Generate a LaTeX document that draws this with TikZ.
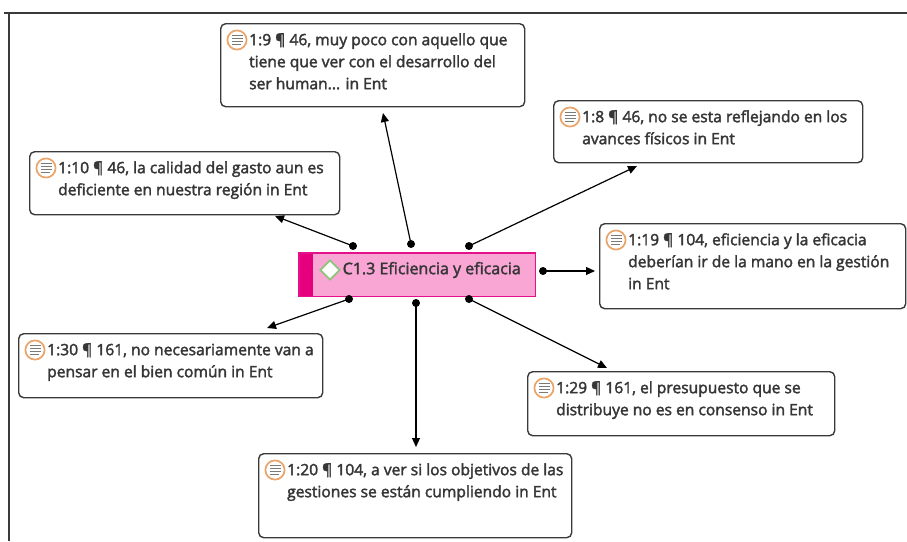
\documentclass[tikz,border=0pt]{standalone}
\usepackage{fontspec}
\setmainfont{Open Sans}
\usetikzlibrary{arrows.meta,calc,shapes.geometric}
\definecolor{txt}{HTML}{363636}
\definecolor{boxc}{HTML}{3A3A3A}
\definecolor{iconring}{HTML}{EBA46A}
\definecolor{iconline}{HTML}{7A7A7A}
\definecolor{cfill}{HTML}{F9A6D4}
\definecolor{cborder}{HTML}{E3128A}
\definecolor{cstrip}{HTML}{E6007E}
\definecolor{dgreen}{HTML}{8CC47A}
\newcommand\qheavy{\special{pdf:literal direct 2 Tr 0.35 w}}
\newcommand\qfont{\fontsize{15.6}{22}\selectfont}
\begin{document}
\begin{tikzpicture}[x=1pt,y=-1pt,
  qbox/.style={draw=boxc, line width=1.4pt, rounded corners=5pt, fill=white, inner sep=0pt, anchor=north west},
  qtext/.style={text=txt, font=\qfont, align=left, inner sep=0pt, anchor=north west},
  conn/.style={draw=black, line width=1.2pt, -{Triangle[length=9pt,width=8pt]}},
  dotc/.style={circle, fill=black, inner sep=0pt, minimum size=8pt},
  frame/.style={draw=boxc, line width=1.5pt},
  qicon/.pic={
    \draw[iconring, fill=white, line width=1.7pt] (0,0) circle (9.6);
    \foreach \yy/\ww in {-4.5/5.5,-1.5/5.5,1.5/5.5,4.5/3.5}
      \draw[iconline, line width=1.7pt] (-5.5,\yy) -- (\ww,\yy);
  }]
\useasboundingbox (0,0) rectangle (907,541);
\draw[frame] (4,13) -- (907,13);
\draw[frame] (9,13) -- (9,541);

% quotation boxes
\node[qbox, minimum width=304pt, minimum height=83pt] (A) at (220,23) {};
\node[qbox, minimum width=309pt, minimum height=62pt] (B) at (553,100) {};
\node[qbox, minimum width=310pt, minimum height=63pt] (C) at (29,151) {};
\node[qbox, minimum width=306pt, minimum height=85pt] (D) at (599,223) {};
\node[qbox, minimum width=304pt, minimum height=64pt] (E) at (18,333) {};
\node[qbox, minimum width=307pt, minimum height=64pt] (F) at (527,371) {};
\node[qbox, minimum width=313pt, minimum height=84pt] (G) at (258,453) {};

\foreach \b in {A,B,C,D,E,F,G}
  \pic at ($(\b.north west)+(17,17)$) {qicon};

\node[qtext] (At) at ($(A.north west)+(29,6.6)$) {\qheavy\strut1:9 ¶ 46, muy poco con aquello que\\tiene que ver con el desarrollo del\\ser human... in Ent};
\node[qtext] (Bt) at ($(B.north west)+(29,6.6)$) {\qheavy\strut1:8 ¶ 46, no se esta reflejando en los\\avances físicos in Ent};
\node[qtext] (Ct) at ($(C.north west)+(29,6.6)$) {\qheavy\strut1:10 ¶ 46, la calidad del gasto aun es\\deficiente en nuestra región in Ent};
\node[qtext] (Dt) at ($(D.north west)+(29,6.6)$) {\qheavy\strut1:19 ¶ 104, eficiencia y la eficacia\\deberían ir de la mano en la gestión\\in Ent};
\node[qtext] (Et) at ($(E.north west)+(29,6.6)$) {\qheavy\strut1:30 ¶ 161, no necesariamente van a\\pensar en el bien común in Ent};
\node[qtext] (Ft) at ($(F.north west)+(29,6.6)$) {\qheavy\strut1:29 ¶ 161, el presupuesto que se\\distribuye no es en consenso in Ent};
\node[qtext] (Gt) at ($(G.north west)+(29,6.6)$) {\qheavy\strut1:20 ¶ 104, a ver si los objetivos de las\\gestiones se están cumpliendo in Ent};

% central code node
\node[fill=cfill, minimum width=236pt, minimum height=43pt, inner sep=0pt, anchor=north west] (K) at (299,253) {};
\fill[cstrip] (K.north west) rectangle ($(K.south west)+(14,0)$);
\draw[cborder, line width=1.2pt] (K.north west) rectangle (K.south east);
\node[diamond, draw=dgreen, fill=white, line width=1.8pt, minimum width=20pt, minimum height=20pt, inner sep=0pt] (Kd) at (330,270) {};
\node[text=txt, font=\fontsize{16}{18}\selectfont, inner sep=0pt, anchor=west] (Kt) at (342.5,270) {\qheavy C1.3 Eficiencia y eficacia};

% connectors
\node[dotc] (dA) at (411,244) {};
\node[dotc] (dB) at (469,246) {};
\node[dotc] (dC) at (353,246) {};
\node[dotc] (dD) at (543,271) {};
\node[dotc] (dE) at (349,299) {};
\node[dotc] (dF) at (469,299) {};
\node[dotc] (dG) at (416,303) {};
\coordinate (tA) at (383,113);
\coordinate (tB) at (637,166);
\coordinate (tC) at (275,216);
\coordinate (tD) at (595,271);
\coordinate (tE) at (267,328);
\coordinate (tF) at (607,368);
\coordinate (tG) at (416,447);
\foreach \e in {A,B,C,D,E,F,G}
  \draw[conn] (d\e.center) -- (t\e);
\end{tikzpicture}
\end{document}
